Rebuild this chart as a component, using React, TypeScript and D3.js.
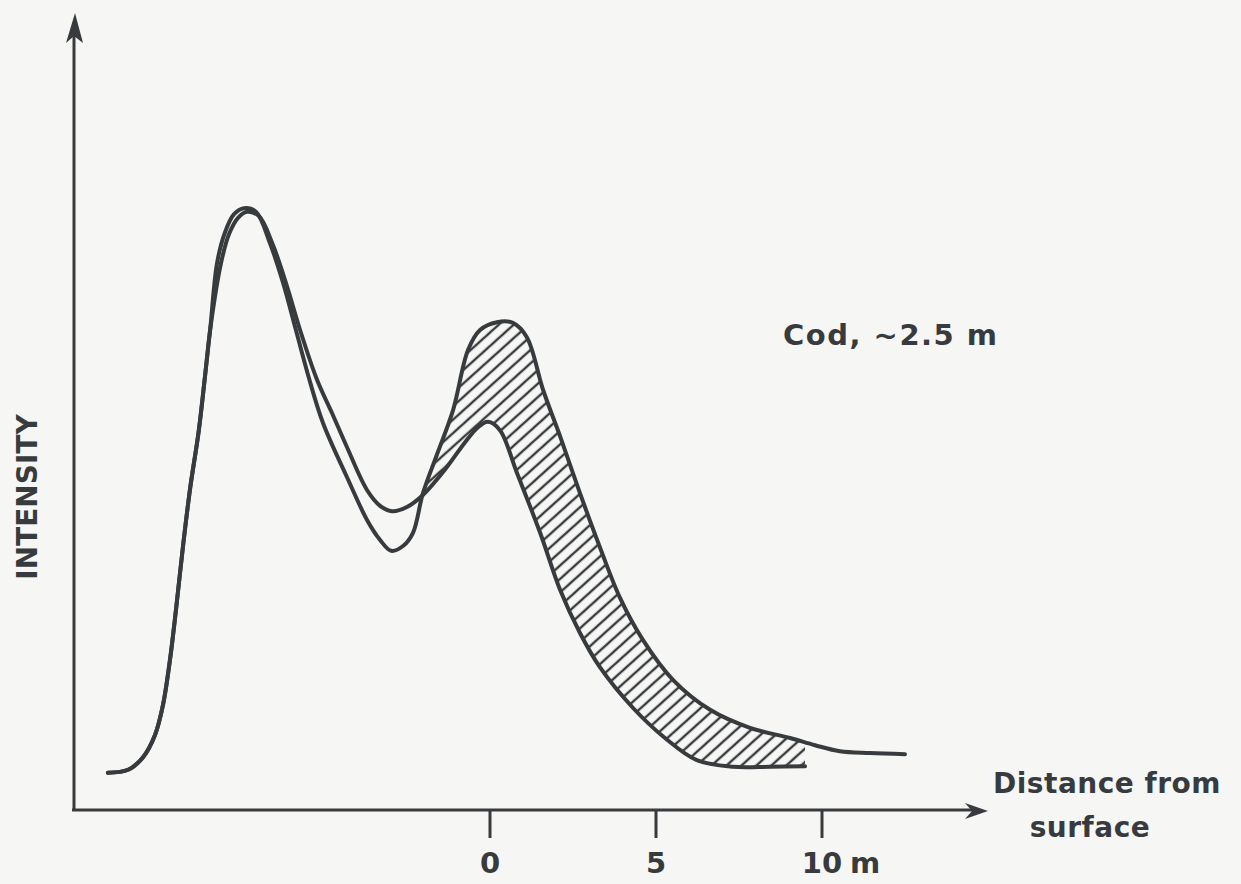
import React from "react";
import * as d3 from "d3";

// distance from surface (m) and relative intensity
const riseDistance = [-11.51, -10.9, -10.45, -10.09, -9.85, -9.64, -9.46, -9.25, -9.04, -8.77, -8.58, -8.43];
const riseIntensity = [6.2, 6.7, 8.8, 12.5, 17.5, 25, 33.3, 43.8, 53.3, 63.3, 72.5, 80];

// curve with the deeper dip and the higher second peak
const deepDistance = [-8.22, -7.98, -7.71, -7.41, -7.05, -6.63, -6.23, -5.87, -5.48, -5.03, -4.31, -3.7, -3.31, -2.98, -2.62, -2.32, -2.02, -1.6, -1.11, -0.66, -0.3, 0.21, 0.69, 1.11, 1.6, 2.11, 2.71, 3.31, 3.92, 4.61, 5.51, 6.63, 7.83, 9.04, 9.79, 10.54, 11.45, 12.5];
const deepIntensity = [91.2, 96.3, 99.3, 100.3, 99.7, 94.5, 87.8, 80.5, 72.5, 64.5, 55.5, 48.3, 45, 43.2, 44, 46.2, 52.8, 59.2, 66.7, 76.7, 80, 81.3, 81.2, 78.8, 70, 62.3, 52.8, 43.8, 35.3, 28.3, 21.7, 16.7, 13.7, 12, 10.8, 9.8, 9.5, 9.3];

// curve with the shallower dip and the lower second peak
const shallowDistance = [-8.1, -7.86, -7.59, -7.32, -6.96, -6.54, -6.11, -5.72, -5.21, -4.73, -4.31, -3.7, -3.31, -2.95, -2.5, -2.02, -1.36, -0.75, -0.36, -0.06, 0.3, 0.81, 1.51, 2.11, 2.71, 3.31, 4.31, 5.27, 6.23, 7.32, 8.43, 9.49];
const shallowIntensity = [91.2, 96, 98.7, 99.7, 99, 94.2, 87.2, 80, 71.7, 65.8, 60.5, 53.3, 50.7, 49.8, 50.5, 52.5, 56.7, 61.3, 63.8, 64.7, 63.3, 56.2, 46.2, 36.7, 29.5, 23.8, 17, 12, 8.3, 7.2, 7.2, 7.3];

const tickValues = [0, 5, 10];
const tickLabels = ["0", "5", "10"];
const unitLabel = "m";
const crossingDistance = -2.02;

const W = 1241;
const H = 884;
const ink = "#383b3d";
const font = "'DejaVu Sans', sans-serif";

type Pt = { x: number; y: number };

function toPoints(xs: number[], ys: number[]): Pt[] {
  return xs.map((x, i) => ({ x, y: ys[i] }));
}

export default function App() {
  const x = d3.scaleLinear().domain([0, 10]).range([490, 822]);
  const y = d3.scaleLinear().domain([0, 100]).range([810, 210]);

  const rise = toPoints(riseDistance, riseIntensity);
  const deep = rise.concat(toPoints(deepDistance, deepIntensity));
  const shallow = rise.concat(toPoints(shallowDistance, shallowIntensity));

  const curve = d3.curveCatmullRom.alpha(0.5);
  const line = d3
    .line<Pt>()
    .x((d) => x(d.x))
    .y((d) => y(d.y))
    .curve(curve);

  // area below the deep curve and area above the shallow one -> their overlap is hatched
  const underDeep = d3
    .area<Pt>()
    .x((d) => x(d.x))
    .y0(H)
    .y1((d) => y(d.y))
    .curve(curve);
  const overShallow = d3
    .area<Pt>()
    .x((d) => x(d.x))
    .y0(0)
    .y1((d) => y(d.y))
    .curve(curve);

  const x0 = 74;
  const yAxis = 810;
  const hatchLeft = x(crossingDistance);
  const hatchRight = x(shallowDistance[shallowDistance.length - 1]);

  return (
    <svg width={W} height={H} style={{ position: "absolute", left: 0, top: 0 }}>
      <defs>
        <pattern id="hatch" patternUnits="userSpaceOnUse" width={10} height={10} patternTransform="rotate(48)">
          <line x1={5} y1={0} x2={5} y2={10} stroke={ink} strokeWidth={2.4} />
        </pattern>
        <clipPath id="underDeep">
          <path d={underDeep(deep) || ""} />
        </clipPath>
        <clipPath id="overShallow">
          <path d={overShallow(shallow) || ""} />
        </clipPath>
      </defs>
      <rect width={W} height={H} fill="#f6f6f4" />

      {/* hatched band between the two curves */}
      <g clipPath="url(#underDeep)">
        <rect
          x={hatchLeft}
          y={0}
          width={hatchRight - hatchLeft}
          height={H}
          fill="url(#hatch)"
          clipPath="url(#overShallow)"
        />
      </g>

      <path d={line(shallow) || ""} fill="none" stroke={ink} strokeWidth={4} strokeLinecap="round" strokeLinejoin="round" />
      <path d={line(deep) || ""} fill="none" stroke={ink} strokeWidth={4} strokeLinecap="round" strokeLinejoin="round" />

      {/* axes with arrows */}
      <line x1={x0} y1={yAxis} x2={x0} y2={36} stroke={ink} strokeWidth={3} />
      <path d={`M${x0 + 1},13 L${x0 - 8},43 L${x0},36 L${x0 + 9},43 Z`} fill={ink} />
      <line x1={x0 - 2} y1={yAxis} x2={972} y2={yAxis} stroke={ink} strokeWidth={3} />
      <path d={`M988,811 L965,803 L972,811 L965,819 Z`} fill={ink} />

      {tickValues.map((t, i) => (
        <g key={t}>
          <line x1={x(t)} y1={yAxis} x2={x(t)} y2={838} stroke={ink} strokeWidth={3} />
          <text x={x(t)} y={873} textAnchor="middle" fontFamily={font} fontWeight="bold" fontSize={29} fill={ink}>
            {tickLabels[i]}
          </text>
        </g>
      ))}
      <text x={850} y={873} fontFamily={font} fontWeight="bold" fontSize={29} fill={ink}>
        {unitLabel}
      </text>

      <text x={1107} y={793} textAnchor="middle" fontFamily={font} fontWeight="bold" fontSize={28} letterSpacing={0.5} fill={ink}>
        Distance from
      </text>
      <text x={1090} y={837} textAnchor="middle" fontFamily={font} fontWeight="bold" fontSize={28} letterSpacing={0.5} fill={ink}>
        surface
      </text>

      <text x={783} y={345} fontFamily={font} fontWeight="bold" fontSize={29} letterSpacing={1.5} fill={ink}>
        Cod, ~2.5 m
      </text>

      <text
        transform="translate(37,497) rotate(-90)"
        textAnchor="middle"
        fontFamily={font}
        fontWeight="bold"
        fontSize={28}
        fill={ink}
      >
        INTENSITY
      </text>
    </svg>
  );
}
